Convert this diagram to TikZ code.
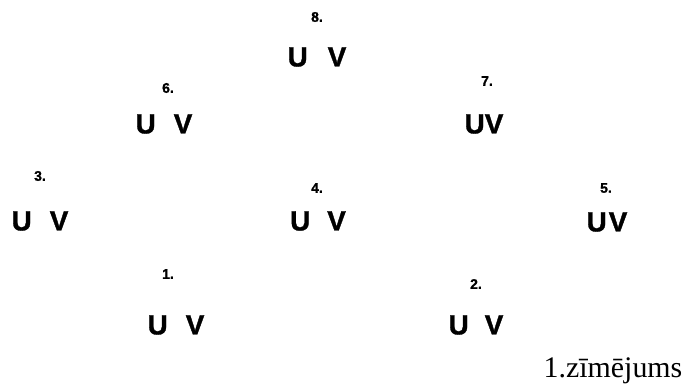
\documentclass[tikz,border=0pt]{standalone}
\usepackage{fontspec}
\setmainfont{Liberation Sans}
\newfontfamily\captionfont{Liberation Serif}
\newfontfamily\pairfont{Liberation Sans Bold}[UprightFeatures={FakeBold=1.2}]
\newcommand{\pairUV}[1]{U\hspace{#1}V}
\tikzset{
  pair/.style={font=\pairfont\fontsize{28}{28}\selectfont, inner sep=0pt},
  num/.style={font=\pairfont\fontsize{14}{14}\selectfont, inner sep=0pt},
}
\begin{document}
\begin{tikzpicture}[x=1bp,y=-1bp]
\useasboundingbox (0,0) rectangle (687,385);

% oberer Rand
\node[num] (n8) at (317,17) {8.};
\node[pair] (p8) at (317,57) {\pairUV{20bp}};

\node[num] (n6) at (168,88) {6.};
\node[pair] (p6) at (164,124) {\pairUV{18bp}};
\node[num] (n7) at (487,81) {7.};
\node[pair] (p7) at (484,124) {\pairUV{0bp}};

% mittlere Reihe
\node[num] (n3) at (40,176) {3.};
\node[pair] (p3) at (40,221) {\pairUV{18bp}};
\node[num] (n4) at (317,188) {4.};
\node[pair] (p4) at (318,221) {\pairUV{17bp}};
\node[num] (n5) at (606,188) {5.};
\node[pair] (p5) at (607,222) {\pairUV{2bp}};

% untere Reihe
\node[num] (n1) at (168,274) {1.};
\node[pair] (p1) at (176,325) {\pairUV{18bp}};
\node[num] (n2) at (476,284) {2.};
\node[pair] (p2) at (476,325) {\pairUV{16bp}};

% Bildunterschrift
\node[font=\captionfont\fontsize{30}{30}\selectfont, inner sep=0pt, anchor=base] (cap) at (613,377) {1.zīmējums};
\end{tikzpicture}
\end{document}
